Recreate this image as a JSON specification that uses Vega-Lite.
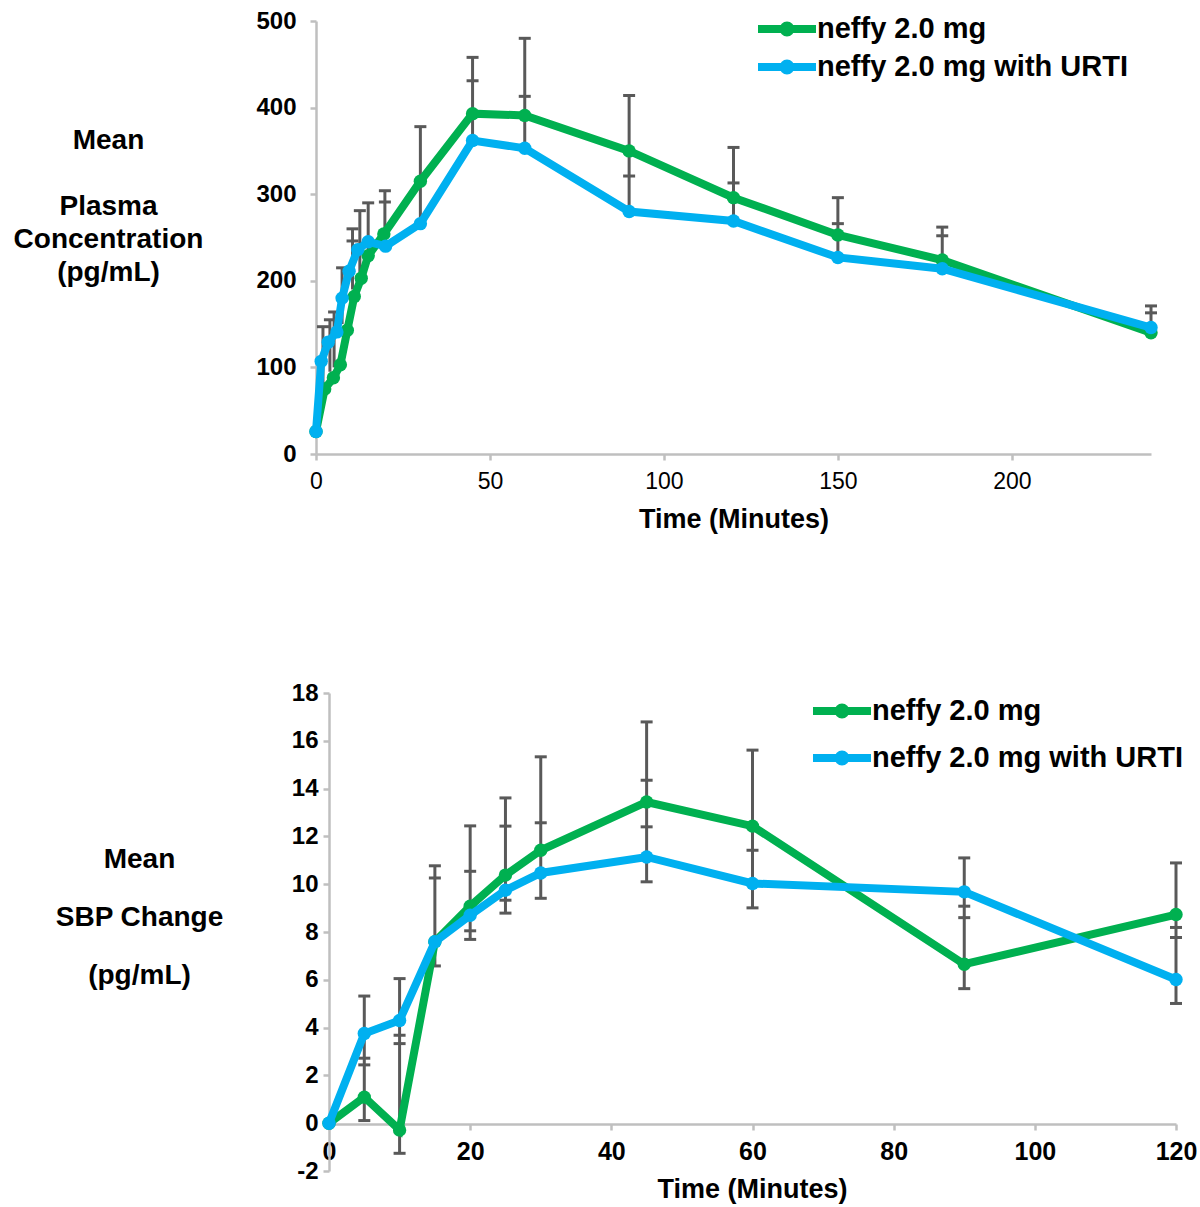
{
  "$schema": "https://vega.github.io/schema/vega-lite/v6.json",
  "background": "white",
  "padding": {"left": 13, "top": 9, "right": 5, "bottom": 5},
  "config": {"view": {"stroke": null}, "font": "Liberation Sans"},
  "bounds": "flush",
  "spacing": 239,
  "resolve": {"scale": {"color": "independent"}, "legend": {"color": "independent"}},
  "datasets": {
    "pk": [
      {"s": "neffy 2.0 mg", "t": 0, "v": 26},
      {"s": "neffy 2.0 mg", "t": 2.5, "v": 75},
      {"s": "neffy 2.0 mg", "t": 5, "v": 88},
      {"s": "neffy 2.0 mg", "t": 7, "v": 103},
      {"s": "neffy 2.0 mg", "t": 9, "v": 143},
      {"s": "neffy 2.0 mg", "t": 11, "v": 182},
      {"s": "neffy 2.0 mg", "t": 13, "v": 203},
      {"s": "neffy 2.0 mg", "t": 15, "v": 229},
      {"s": "neffy 2.0 mg", "t": 19.5, "v": 254},
      {"s": "neffy 2.0 mg", "t": 30, "v": 315},
      {"s": "neffy 2.0 mg", "t": 45, "v": 393},
      {"s": "neffy 2.0 mg", "t": 60, "v": 391},
      {"s": "neffy 2.0 mg", "t": 90, "v": 350},
      {"s": "neffy 2.0 mg", "t": 120, "v": 296},
      {"s": "neffy 2.0 mg", "t": 150, "v": 253},
      {"s": "neffy 2.0 mg", "t": 180, "v": 224},
      {"s": "neffy 2.0 mg", "t": 240, "v": 140},
      {"s": "neffy 2.0 mg with URTI", "t": 0, "v": 26},
      {"s": "neffy 2.0 mg with URTI", "t": 1.5, "v": 107},
      {"s": "neffy 2.0 mg with URTI", "t": 3.5, "v": 129},
      {"s": "neffy 2.0 mg with URTI", "t": 6, "v": 141},
      {"s": "neffy 2.0 mg with URTI", "t": 7.5, "v": 180},
      {"s": "neffy 2.0 mg with URTI", "t": 9.5, "v": 211},
      {"s": "neffy 2.0 mg with URTI", "t": 12, "v": 236},
      {"s": "neffy 2.0 mg with URTI", "t": 15, "v": 245},
      {"s": "neffy 2.0 mg with URTI", "t": 20, "v": 240},
      {"s": "neffy 2.0 mg with URTI", "t": 30, "v": 266},
      {"s": "neffy 2.0 mg with URTI", "t": 45, "v": 362},
      {"s": "neffy 2.0 mg with URTI", "t": 60, "v": 353},
      {"s": "neffy 2.0 mg with URTI", "t": 90, "v": 280},
      {"s": "neffy 2.0 mg with URTI", "t": 120, "v": 269},
      {"s": "neffy 2.0 mg with URTI", "t": 150, "v": 227},
      {"s": "neffy 2.0 mg with URTI", "t": 180, "v": 214},
      {"s": "neffy 2.0 mg with URTI", "t": 240, "v": 146}
    ],
    "pkbar": [
      {"t": 2, "v": 80, "v2": 147},
      {"t": 4, "v": 95, "v2": 155},
      {"t": 5.2, "v": 100, "v2": 164},
      {"t": 7.5, "v": 150, "v2": 215},
      {"t": 10.5, "v": 190, "v2": 260},
      {"t": 12.6, "v": 210, "v2": 281},
      {"t": 15, "v": 235, "v2": 290},
      {"t": 19.8, "v": 240, "v2": 304},
      {"t": 30, "v": 266, "v2": 378},
      {"t": 45, "v": 362, "v2": 458},
      {"t": 60, "v": 353, "v2": 480},
      {"t": 90, "v": 280, "v2": 414},
      {"t": 120, "v": 269, "v2": 354},
      {"t": 150, "v": 227, "v2": 296},
      {"t": 180, "v": 214, "v2": 262},
      {"t": 240, "v": 146, "v2": 171}
    ],
    "pkcap": [
      {"t": 2, "v": 147}, {"t": 4, "v": 155}, {"t": 5.2, "v": 164}, {"t": 7.5, "v": 215},
      {"t": 10.5, "v": 260}, {"t": 10.5, "v": 246}, {"t": 12.6, "v": 281}, {"t": 15, "v": 290},
      {"t": 19.8, "v": 304}, {"t": 19.8, "v": 291}, {"t": 30, "v": 378},
      {"t": 45, "v": 458}, {"t": 45, "v": 431}, {"t": 60, "v": 480}, {"t": 60, "v": 413},
      {"t": 90, "v": 414}, {"t": 90, "v": 321}, {"t": 120, "v": 354}, {"t": 120, "v": 313},
      {"t": 150, "v": 296}, {"t": 150, "v": 266}, {"t": 180, "v": 262}, {"t": 180, "v": 252},
      {"t": 240, "v": 171}, {"t": 240, "v": 163}
    ],
    "sbp": [
      {"s": "neffy 2.0 mg", "t": 0, "v": 0},
      {"s": "neffy 2.0 mg", "t": 5, "v": 1.09},
      {"s": "neffy 2.0 mg", "t": 10, "v": -0.28},
      {"s": "neffy 2.0 mg", "t": 15, "v": 7.59},
      {"s": "neffy 2.0 mg", "t": 20, "v": 9.08},
      {"s": "neffy 2.0 mg", "t": 25, "v": 10.38},
      {"s": "neffy 2.0 mg", "t": 30, "v": 11.42},
      {"s": "neffy 2.0 mg", "t": 45, "v": 13.44},
      {"s": "neffy 2.0 mg", "t": 60, "v": 12.43},
      {"s": "neffy 2.0 mg", "t": 90, "v": 6.65},
      {"s": "neffy 2.0 mg", "t": 120, "v": 8.73},
      {"s": "neffy 2.0 mg with URTI", "t": 0, "v": 0},
      {"s": "neffy 2.0 mg with URTI", "t": 5, "v": 3.75},
      {"s": "neffy 2.0 mg with URTI", "t": 10, "v": 4.3},
      {"s": "neffy 2.0 mg with URTI", "t": 15, "v": 7.59},
      {"s": "neffy 2.0 mg with URTI", "t": 20, "v": 8.7},
      {"s": "neffy 2.0 mg with URTI", "t": 25, "v": 9.75},
      {"s": "neffy 2.0 mg with URTI", "t": 30, "v": 10.47},
      {"s": "neffy 2.0 mg with URTI", "t": 45, "v": 11.14},
      {"s": "neffy 2.0 mg with URTI", "t": 60, "v": 10.03},
      {"s": "neffy 2.0 mg with URTI", "t": 90, "v": 9.68},
      {"s": "neffy 2.0 mg with URTI", "t": 120, "v": 6.01}
    ],
    "sbpbar": [
      {"t": 5, "v": 0.11, "v2": 5.32},
      {"t": 10, "v": -1.26, "v2": 6.05},
      {"t": 15, "v": 6.58, "v2": 10.77},
      {"t": 20, "v": 7.69, "v2": 12.44},
      {"t": 25, "v": 8.79, "v2": 13.61},
      {"t": 30, "v": 9.41, "v2": 15.33},
      {"t": 45, "v": 10.1, "v2": 16.79},
      {"t": 60, "v": 9.01, "v2": 15.61},
      {"t": 90, "v": 5.63, "v2": 11.1},
      {"t": 120, "v": 5.01, "v2": 10.89}
    ],
    "sbpcap": [
      {"t": 5, "v": 5.32}, {"t": 5, "v": 2.72}, {"t": 5, "v": 2.44}, {"t": 5, "v": 0.11},
      {"t": 10, "v": 6.05}, {"t": 10, "v": 3.68}, {"t": 10, "v": 3.33}, {"t": 10, "v": -1.26},
      {"t": 15, "v": 10.77}, {"t": 15, "v": 10.26}, {"t": 15, "v": 6.58},
      {"t": 20, "v": 12.44}, {"t": 20, "v": 10.54}, {"t": 20, "v": 8.05}, {"t": 20, "v": 7.69},
      {"t": 25, "v": 13.61}, {"t": 25, "v": 12.43}, {"t": 25, "v": 9.33}, {"t": 25, "v": 8.79},
      {"t": 30, "v": 15.33}, {"t": 30, "v": 12.57}, {"t": 30, "v": 9.41},
      {"t": 45, "v": 16.79}, {"t": 45, "v": 14.35}, {"t": 45, "v": 12.4}, {"t": 45, "v": 10.1},
      {"t": 60, "v": 15.61}, {"t": 60, "v": 11.42}, {"t": 60, "v": 9.01},
      {"t": 90, "v": 11.1}, {"t": 90, "v": 9.08}, {"t": 90, "v": 8.6}, {"t": 90, "v": 5.63},
      {"t": 120, "v": 10.89}, {"t": 120, "v": 8.19}, {"t": 120, "v": 7.77}, {"t": 120, "v": 5.01}
    ]
  },
  "vconcat": [
    {
      "width": 835,
      "height": 433,
      "encoding": {
        "x": {
          "field": "t", "type": "quantitative",
          "scale": {"domain": [0, 240], "nice": false, "zero": false},
          "axis": {
            "values": [0, 50, 100, 150, 200], "grid": false,
            "domainColor": "#bfbfbf", "domainWidth": 2.5, "tickColor": "#bfbfbf", "tickWidth": 2.5, "tickSize": 6,
            "labelFont": "Liberation Sans", "labelFontSize": 23, "labelFontWeight": "normal", "labelColor": "black",
            "labelPadding": 10, "labelFlush": false, "labelOverlap": false,
            "title": "Time (Minutes)", "titleFont": "Liberation Sans", "titleFontSize": 27, "titleFontWeight": "bold",
            "titleColor": "black", "titlePadding": 13
          }
        },
        "y": {
          "field": "v", "type": "quantitative",
          "scale": {"domain": [0, 500], "nice": false},
          "axis": {
            "values": [0, 100, 200, 300, 400, 500], "grid": false,
            "domainColor": "#bfbfbf", "domainWidth": 2.5, "tickColor": "#bfbfbf", "tickWidth": 2.5, "tickSize": 6,
            "labelFont": "Liberation Sans", "labelFontSize": 24, "labelFontWeight": "bold", "labelColor": "black",
            "labelPadding": 14,
            "title": ["Mean", "\u2800", "Plasma", "Concentration", "(pg/mL)"],
            "titleFont": "Liberation Sans", "titleFontSize": 28, "titleFontWeight": "bold", "titleColor": "black",
            "titleAngle": 0, "titleAlign": "center", "titleBaseline": "top", "titleLineHeight": 33,
            "titleX": -208, "titleY": 105
          }
        }
      },
      "layer": [
        {
          "data": {"name": "pkbar"},
          "mark": {"type": "rule", "color": "#595959", "strokeWidth": 3},
          "encoding": {"y2": {"field": "v2"}}
        },
        {
          "data": {"name": "pkcap"},
          "mark": {"type": "tick", "color": "#595959", "thickness": 3, "size": 12, "orient": "horizontal", "opacity": 1}
        },
        {
          "data": {"name": "pk"},
          "transform": [{"filter": "datum.s === 'neffy 2.0 mg'"}],
          "mark": {"type": "line", "strokeWidth": 8},
          "encoding": {
            "color": {"field": "s", "type": "nominal",
              "scale": {"domain": ["neffy 2.0 mg", "neffy 2.0 mg with URTI"], "range": ["#00b050", "#00b0f0"]},
              "legend": {"title": null, "orient": "none", "legendX": 455, "legendY": -8,
                "symbolType": "M-2.5,0H2.5M-0.3,0A0.3,0.3,0,1,0,0.3,0A0.3,0.3,0,1,0,-0.3,0",
                "symbolSize": 538, "symbolStrokeWidth": 8, "symbolOpacity": 1,
                "labelFont": "Liberation Sans", "labelFontSize": 29, "labelFontWeight": "bold", "labelColor": "black",
                "labelOffset": 14, "rowPadding": -2, "padding": 0, "labelLimit": 600}
            }
          }
        },
        {
          "data": {"name": "pk"},
          "transform": [{"filter": "datum.s === 'neffy 2.0 mg'"}],
          "mark": {"type": "point", "filled": true, "size": 180, "opacity": 1},
          "encoding": {
            "color": {"field": "s", "type": "nominal",
              "scale": {"domain": ["neffy 2.0 mg", "neffy 2.0 mg with URTI"], "range": ["#00b050", "#00b0f0"]}}
          }
        },
        {
          "data": {"name": "pk"},
          "transform": [{"filter": "datum.s === 'neffy 2.0 mg with URTI'"}],
          "mark": {"type": "line", "strokeWidth": 8},
          "encoding": {
            "color": {"field": "s", "type": "nominal",
              "scale": {"domain": ["neffy 2.0 mg", "neffy 2.0 mg with URTI"], "range": ["#00b050", "#00b0f0"]}}
          }
        },
        {
          "data": {"name": "pk"},
          "transform": [{"filter": "datum.s === 'neffy 2.0 mg with URTI'"}],
          "mark": {"type": "point", "filled": true, "size": 180, "opacity": 1},
          "encoding": {
            "color": {"field": "s", "type": "nominal",
              "scale": {"domain": ["neffy 2.0 mg", "neffy 2.0 mg with URTI"], "range": ["#00b050", "#00b0f0"]}}
          }
        }
      ]
    },
    {
      "width": 860,
      "height": 478,
      "encoding": {
        "x": {
          "field": "t", "type": "quantitative",
          "scale": {"domain": [0, 120], "nice": false, "zero": false, "range": [13, 860]},
          "axis": {
            "values": [0, 20, 40, 60, 80, 100, 120], "grid": false, "offset": -47,
            "domainColor": "#bfbfbf", "domainWidth": 2.5, "tickColor": "#bfbfbf", "tickWidth": 2.5, "tickSize": 6,
            "labelFont": "Liberation Sans", "labelFontSize": 25, "labelFontWeight": "bold", "labelColor": "black",
            "labelPadding": 9, "labelFlush": false, "labelOverlap": false,
            "title": "Time (Minutes)", "titleFont": "Liberation Sans", "titleFontSize": 27, "titleFontWeight": "bold",
            "titleColor": "black", "titlePadding": 12, "titleX": 436
          }
        },
        "y": {
          "field": "v", "type": "quantitative",
          "scale": {"domain": [-2, 18], "nice": false, "zero": false},
          "axis": {
            "values": [-2, 0, 2, 4, 6, 8, 10, 12, 14, 16, 18], "grid": false, "offset": -13,
            "labelExpr": "'' + datum.value",
            "domainColor": "#bfbfbf", "domainWidth": 2.5, "tickColor": "#bfbfbf", "tickWidth": 2.5, "tickSize": 6,
            "labelFont": "Liberation Sans", "labelFontSize": 24, "labelFontWeight": "bold", "labelColor": "black",
            "labelPadding": 5,
            "title": ["Mean", "SBP Change", "(pg/mL)"],
            "titleFont": "Liberation Sans", "titleFontSize": 28, "titleFontWeight": "bold", "titleColor": "black",
            "titleAngle": 0, "titleAlign": "center", "titleBaseline": "top", "titleLineHeight": 58,
            "titleX": -190, "titleY": 152
          }
        }
      },
      "layer": [
        {
          "data": {"name": "sbpbar"},
          "mark": {"type": "rule", "color": "#595959", "strokeWidth": 3},
          "encoding": {"y2": {"field": "v2"}}
        },
        {
          "data": {"name": "sbpcap"},
          "mark": {"type": "tick", "color": "#595959", "thickness": 3, "size": 12, "orient": "horizontal", "opacity": 1}
        },
        {
          "data": {"name": "sbp"},
          "transform": [{"filter": "datum.s === 'neffy 2.0 mg'"}],
          "mark": {"type": "line", "strokeWidth": 8},
          "encoding": {
            "color": {"field": "s", "type": "nominal",
              "scale": {"domain": ["neffy 2.0 mg", "neffy 2.0 mg with URTI"], "range": ["#00b050", "#00b0f0"]},
              "legend": {"title": null, "orient": "none", "legendX": 510, "legendY": 2,
                "symbolType": "M-2.5,0H2.5M-0.3,0A0.3,0.3,0,1,0,0.3,0A0.3,0.3,0,1,0,-0.3,0",
                "symbolSize": 538, "symbolStrokeWidth": 8, "symbolOpacity": 1,
                "labelFont": "Liberation Sans", "labelFontSize": 29, "labelFontWeight": "bold", "labelColor": "black",
                "labelOffset": 14, "rowPadding": 7, "padding": 0, "labelLimit": 600}
            }
          }
        },
        {
          "data": {"name": "sbp"},
          "transform": [{"filter": "datum.s === 'neffy 2.0 mg'"}],
          "mark": {"type": "point", "filled": true, "size": 180, "opacity": 1},
          "encoding": {
            "color": {"field": "s", "type": "nominal",
              "scale": {"domain": ["neffy 2.0 mg", "neffy 2.0 mg with URTI"], "range": ["#00b050", "#00b0f0"]}}
          }
        },
        {
          "data": {"name": "sbp"},
          "transform": [{"filter": "datum.s === 'neffy 2.0 mg with URTI'"}],
          "mark": {"type": "line", "strokeWidth": 8},
          "encoding": {
            "color": {"field": "s", "type": "nominal",
              "scale": {"domain": ["neffy 2.0 mg", "neffy 2.0 mg with URTI"], "range": ["#00b050", "#00b0f0"]}}
          }
        },
        {
          "data": {"name": "sbp"},
          "transform": [{"filter": "datum.s === 'neffy 2.0 mg with URTI'"}],
          "mark": {"type": "point", "filled": true, "size": 180, "opacity": 1},
          "encoding": {
            "color": {"field": "s", "type": "nominal",
              "scale": {"domain": ["neffy 2.0 mg", "neffy 2.0 mg with URTI"], "range": ["#00b050", "#00b0f0"]}}
          }
        }
      ]
    }
  ]
}
